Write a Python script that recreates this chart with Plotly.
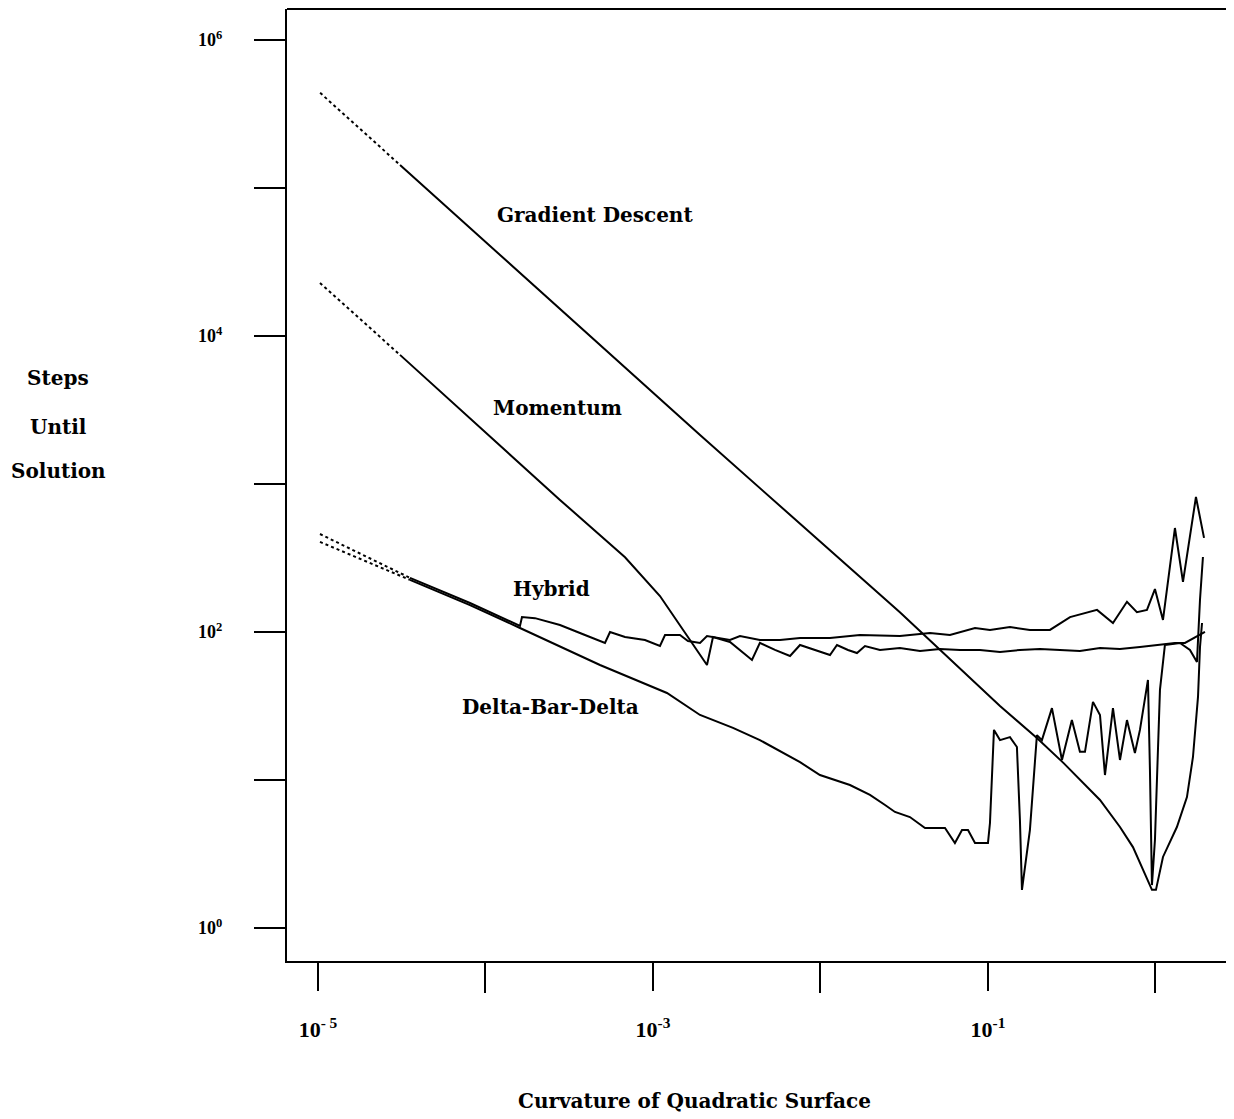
import plotly.graph_objects as go

# ---------------- data ----------------
gd_x = [1.03e-5, 3.09e-5, 1.22e-4, 1.91e-3, 2.98e-2, 0.118, 0.196, 0.283, 0.4665, 0.614,
        0.734, 0.890, 0.953, 1.007, 1.109, 1.343, 1.542, 1.675, 1.795, 1.845, 1.897]
gd_y = [4.39e5, 1.43e5, 3.52e4, 2.14e3, 136, 31.6, 19.2, 13.0, 7.33, 4.81,
        3.52, 2.11, 1.81, 1.81, 3.02, 4.81, 7.67, 14.3, 36.4, 79.2, 115]

mom_x = [1.028e-5, 3.088e-5, 9.27e-5, 2.785e-4, 6.81e-4, 1.101e-3, 1.663e-3, 2.101e-3, 2.282e-3,
         2.882e-3, 3.90e-3, 4.35e-3, 5.35e-3, 6.58e-3, 7.55e-3, 9.27e-3, 1.14e-2, 1.255e-2,
         1.46e-2, 1.652e-2, 1.844e-2, 2.266e-2, 2.98e-2, 3.93e-2, 5.17e-2, 6.81e-2, 8.96e-2,
         0.118, 0.1552, 0.2044, 0.269, 0.354, 0.4665, 0.614, 0.808, 1.064, 1.307, 1.50, 1.975]
mom_y = [2.28e4, 7.45e3, 2.43e3, 780, 320, 175, 88.3, 59.8, 92.5,
         85.6, 64.7, 84.3, 75.6, 68.8, 81.7, 75.6, 69.9, 81.7,
         75.6, 72.1, 80.4, 75.6, 78.0, 74.4, 76.8, 75.6, 75.6,
         73.2, 75.6, 76.8, 75.6, 74.4, 78.0, 76.8, 79.2, 81.7, 84.3, 84.3, 100]

hyb_x = [1.028e-5, 3.542e-5, 8.08e-5, 1.607e-4, 1.652e-4, 1.975e-4, 2.785e-4, 3.926e-4, 5.17e-4,
         5.54e-4, 6.81e-4, 8.96e-4, 1.101e-3, 1.18e-3, 1.449e-3, 1.618e-3, 1.909e-3, 2.101e-3,
         2.882e-3, 3.307e-3, 4.35e-3, 5.73e-3, 7.55e-3, 1.14e-2, 1.72e-2, 2.98e-2, 4.51e-2,
         5.93e-2, 8.37e-2, 0.1028, 0.1353, 0.178, 0.2345, 0.309, 0.448, 0.5576, 0.676, 0.775,
         0.890, 0.993, 1.109, 1.307, 1.460, 1.745, 1.95]
hyb_y = [459, 232, 157, 109.9, 126, 124, 111.5, 95.4, 84.3,
         100, 92.5, 88.3, 80.4, 95.4, 95.4, 86.9, 84.3, 93.9,
         88.3, 93.9, 88.3, 88.3, 91.1, 91.1, 95.4, 93.9, 98.4,
         95.4, 106.4, 103.2, 108, 103.2, 103.2, 126, 141, 115, 160, 136,
         141, 195, 120.5, 504, 218, 817, 432]

dbd_x = [1.028e-5, 3.542e-5, 8.08e-5, 1.607e-4, 4.827e-4, 1.212e-3, 1.909e-3, 3.004e-3, 4.35e-3,
         7.55e-3, 9.93e-3, 1.50e-2, 1.975e-2, 2.43e-2, 2.785e-2, 3.42e-2, 4.21e-2, 5.54e-2,
         6.35e-2, 7.0e-2, 7.6e-2, 8.37e-2, 0.1, 0.1028, 0.1086, 0.118, 0.1353, 0.1489, 0.1552,
         0.1596, 0.178, 0.196, 0.210, 0.241, 0.2766, 0.317, 0.354, 0.3795, 0.4236, 0.4665,
         0.4996, 0.5576, 0.614, 0.676, 0.754, 0.808, 0.902, 0.927, 0.953, 0.993, 1.064, 1.139,
         1.401, 1.607, 1.769, 1.845, 1.921]
dbd_y = [406, 225, 152, 106.4, 59.8, 38.7, 27.5, 22.5, 18.6,
         13.2, 10.8, 9.25, 7.92, 6.78, 6.08, 5.62, 4.74, 4.74,
         3.75, 4.59, 4.59, 3.75, 3.75, 5.12, 21.8, 18.6, 19.5, 16.7, 5.37,
         1.81, 4.59, 20.1, 18.6, 30.6, 13.65, 25.4, 15.5, 15.5, 33.7, 27.5,
         10.8, 30.6, 13.65, 25.4, 15.2, 21.8, 47.4, 11.7, 1.95, 3.93, 40.6, 81.7,
         84.3, 75.6, 62.7, 165, 321]

x_tickvals = [1e-5, 1e-3, 1e-1]
x_ticktext = ["10<sup>- 5</sup>", "10<sup>-3</sup>", "10<sup>-1</sup>"]
x_minorvals = [1e-4, 1e-2, 1e0]
y_tickvals = [1e0, 1e2, 1e4, 1e6]
y_ticktext = ["10<sup>0</sup>", "10<sup>2</sup>", "10<sup>4</sup>", "10<sup>6</sup>"]
y_minorvals = [1e1, 1e3, 1e5]

series = [
    ("Gradient Descent", gd_x, gd_y, 2),
    ("Momentum", mom_x, mom_y, 2),
    ("Hybrid", hyb_x, hyb_y, 2),
    ("Delta-Bar-Delta", dbd_x, dbd_y, 2),
]

# ---------------- figure ----------------
OFF = 8  # page body margin
W, H = 1234 - OFF, 1119 - OFF
L, T = 287 - OFF, 9 - OFF
PR, PB = 1233 - OFF, 961 - OFF  # plot right / bottom in figure pixels
R, B = W - PR, H - PB
pw, ph = PR - L, PB - T


def px(xp):
    return (xp - OFF - L) / pw


def py(yp):
    return (PB - (yp - OFF)) / ph


fig = go.Figure()
for name, xs, ys, k in series:
    fig.add_trace(go.Scatter(x=xs[:k], y=ys[:k], mode="lines", name=name,
                             line=dict(color="black", width=2, dash="dot"),
                             showlegend=False, hoverinfo="skip"))
    fig.add_trace(go.Scatter(x=xs[k - 1:], y=ys[k - 1:], mode="lines", name=name,
                             line=dict(color="black", width=2),
                             showlegend=False))

tick_font = "Liberation Serif"
serif = "DejaVu Serif"

fig.update_xaxes(type="log", range=[-5.185, 0.463], showgrid=False, zeroline=False,
                 showline=True, linecolor="black", linewidth=2,
                 ticks="outside", ticklen=28, tickwidth=2, tickcolor="black",
                 tickvals=x_tickvals, ticktext=x_ticktext, ticklabelstandoff=20,
                 minor=dict(tickvals=x_minorvals, ticks="outside", ticklen=30,
                            tickwidth=2, tickcolor="black", showgrid=False),
                 tickfont=dict(family=tick_font, size=22, color="black", weight="bold"))
fig.update_yaxes(type="log", range=[-0.223, 6.209], showgrid=False, zeroline=False,
                 showline=True, linecolor="black", linewidth=2,
                 ticks="outside", ticklen=31, tickwidth=2, tickcolor="black",
                 tickvals=y_tickvals, ticktext=y_ticktext, ticklabelstandoff=28,
                 minor=dict(tickvals=y_minorvals, ticks="outside", ticklen=31,
                            tickwidth=2, tickcolor="black", showgrid=False),
                 tickfont=dict(family=tick_font, size=18, color="black", weight="bold"))

# top frame line
fig.add_shape(type="line", xref="paper", yref="paper", x0=0, x1=1, y0=1, y1=1,
              line=dict(color="black", width=2))

lab_font = dict(family=serif, size=20, color="black")
labels = [
    ("<b>Gradient Descent</b>", 595, 215),
    ("<b>Momentum</b>", 557, 408),
    ("<b>Hybrid</b>", 551, 589),
    ("<b>Delta-Bar-Delta</b>", 550, 707),
    ("<b>Steps</b>", 58, 378),
    ("<b>Until</b>", 58, 427),
    ("<b>Solution</b>", 58, 471),
    ("<b>Curvature of Quadratic Surface</b>", 694, 1101),
]
for text, xx, yy in labels:
    fig.add_annotation(text=text, xref="paper", yref="paper", x=px(xx), y=py(yy),
                       xanchor="center", yanchor="middle", showarrow=False, font=lab_font)

fig.update_layout(width=W, height=H, margin=dict(l=L, r=R, t=T, b=B, autoexpand=False),
                  plot_bgcolor="white", paper_bgcolor="white")

fig.write_html("out.html")
